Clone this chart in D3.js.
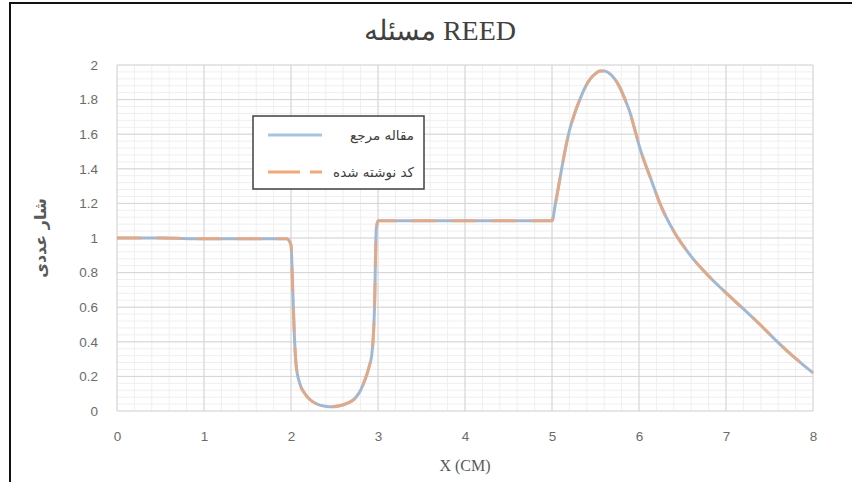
<!DOCTYPE html>
<html>
<head>
<meta charset="utf-8">
<script src="https://cdn.jsdelivr.net/npm/d3@7"></script>
<style>
  body { margin: 0; background: #fff; }
  svg { display: block; }
</style>
</head>
<body>
<div id="chart"></div>
<script>
// values
const xValues = [0, 0.5, 1, 1.5, 1.95, 2.0, 2.02, 2.04, 2.06, 2.1, 2.16, 2.22, 2.3, 2.39, 2.48, 2.56, 2.65, 2.74, 2.8, 2.85, 2.9, 2.93, 2.96, 2.98, 3.0,
  3.5, 4, 4.5, 5.0, 5.04, 5.09, 5.14, 5.2, 5.26, 5.32, 5.38, 5.44, 5.5, 5.55, 5.6, 5.65, 5.72, 5.78, 5.84, 5.9, 5.95, 6.01, 6.07, 6.13, 6.24,
  6.41, 6.59, 6.82, 7.05, 7.2, 7.39, 7.55, 7.74, 7.88, 8.0];
const refFlux = [1.0, 1.0, 0.995, 0.995, 0.995, 0.96, 0.7, 0.42, 0.26, 0.16, 0.1, 0.065, 0.04, 0.028, 0.025, 0.03, 0.045, 0.075, 0.12, 0.18, 0.26, 0.33, 0.6, 1.05, 1.1,
  1.1, 1.1, 1.1, 1.1, 1.2, 1.34, 1.48, 1.62, 1.72, 1.8, 1.87, 1.92, 1.95, 1.965, 1.965, 1.955, 1.92, 1.87, 1.8, 1.72, 1.63, 1.52, 1.43, 1.35, 1.2,
  1.03, 0.9, 0.77, 0.66, 0.59, 0.5, 0.42, 0.33, 0.27, 0.22];
const codeFlux = refFlux.slice();

const xTicks = [0, 1, 2, 3, 4, 5, 6, 7, 8];
const yTicks = [0, 0.2, 0.4, 0.6, 0.8, 1, 1.2, 1.4, 1.6, 1.8, 2];
const titleText = "مسئله REED";
const xTitle = "X (CM)";
const yTitle = "شار عددی";
const seriesNames = ["مقاله مرجع", "کد نوشته شده"];

const width = 852, height = 482;
const margin = {left: 117, right: 39, top: 65, bottom: 71};

const svg = d3.select("#chart").append("svg")
  .attr("width", width)
  .attr("height", height);

// frame lines of the screenshot
svg.append("line").attr("x1", 10).attr("x2", 10).attr("y1", 2).attr("y2", height)
  .attr("stroke", "#111").attr("stroke-width", 2);
svg.append("line").attr("x1", 9).attr("x2", width).attr("y1", 3).attr("y2", 3)
  .attr("stroke", "#111").attr("stroke-width", 2);

const x = d3.scaleLinear().domain([0, 8]).range([margin.left, width - margin.right]);
const y = d3.scaleLinear().domain([0, 2]).range([height - margin.bottom, margin.top]);

// minor grid
const g = svg.append("g");
g.selectAll("line.mx").data(d3.range(0, 8.001, 0.2)).join("line")
  .attr("x1", d => x(d)).attr("x2", d => x(d))
  .attr("y1", y(0)).attr("y2", y(2))
  .attr("stroke", "#efefef").attr("stroke-width", 1);
g.selectAll("line.my").data(d3.range(0, 2.001, 0.04)).join("line")
  .attr("x1", x(0)).attr("x2", x(8))
  .attr("y1", d => y(d)).attr("y2", d => y(d))
  .attr("stroke", "#efefef").attr("stroke-width", 1);

// major grid
g.selectAll("line.gx").data(xTicks).join("line")
  .attr("x1", d => x(d)).attr("x2", d => x(d))
  .attr("y1", y(0)).attr("y2", y(2))
  .attr("stroke", "#d4d4d4").attr("stroke-width", 1);
g.selectAll("line.gy").data(yTicks).join("line")
  .attr("x1", x(0)).attr("x2", x(8))
  .attr("y1", d => y(d)).attr("y2", d => y(d))
  .attr("stroke", "#d4d4d4").attr("stroke-width", 1);

// axes (labels only)
const xAxis = svg.append("g")
  .attr("transform", `translate(0,${y(0) + 17})`)
  .call(d3.axisBottom(x).tickValues(xTicks).tickSize(0).tickFormat(d3.format("d")));
const yAxis = svg.append("g")
  .attr("transform", `translate(${x(0) - 16},0)`)
  .call(d3.axisLeft(y).tickValues(yTicks).tickSize(0).tickFormat(d => String(d)));
[xAxis, yAxis].forEach(a => {
  a.select(".domain").remove();
  a.selectAll("text").attr("fill", "#6b6b6b")
    .style("font-family", "'Liberation Sans', 'DejaVu Sans', sans-serif")
    .style("font-size", "13.5px");
});

// lines
const line = d3.line().x(d => x(d[0])).y(d => y(d[1])).curve(d3.curveMonotoneX);
svg.append("path")
  .datum(xValues.map((v, i) => [v, refFlux[i]]))
  .attr("d", line)
  .attr("fill", "none").attr("stroke", "#a3b8d0").attr("stroke-width", 3);
svg.append("path")
  .datum(xValues.map((v, i) => [v, codeFlux[i]]))
  .attr("d", line)
  .attr("fill", "none").attr("stroke", "#eea67a").attr("stroke-width", 3)
  .attr("stroke-dasharray", "24,16").attr("opacity", 0.8);

// title
svg.append("text")
  .attr("x", 440).attr("y", 40)
  .attr("text-anchor", "middle")
  .attr("fill", "#404040")
  .style("font-family", "'Liberation Serif', 'DejaVu Serif', serif")
  .style("font-size", "28px")
  .text(titleText);

// axis titles
svg.append("text")
  .attr("x", x(4)).attr("y", 471)
  .attr("text-anchor", "middle")
  .attr("fill", "#595959")
  .style("font-family", "'Liberation Serif', serif")
  .style("font-size", "16px")
  .text(xTitle);
svg.append("text")
  .attr("transform", `translate(46,${y(1)}) rotate(-90)`)
  .attr("text-anchor", "middle")
  .attr("fill", "#595959")
  .style("font-family", "'DejaVu Sans', sans-serif")
  .style("font-size", "16px")
  .style("font-weight", "bold")
  .text(yTitle);

// legend
const leg = svg.append("g");
leg.append("rect")
  .attr("x", 253).attr("y", 116).attr("width", 171).attr("height", 73)
  .attr("fill", "#fff").attr("stroke", "#404040").attr("stroke-width", 1.5);
const legColors = ["#a9c4e0", "#f0a878"];
const legDash = [null, "32,10"];
seriesNames.forEach((name, i) => {
  const ly = 135 + i * 37;
  leg.append("line")
    .attr("x1", 268).attr("x2", 322).attr("y1", ly).attr("y2", ly)
    .attr("stroke", legColors[i]).attr("stroke-width", 3)
    .attr("stroke-dasharray", legDash[i]);
  leg.append("text")
    .attr("x", 414).attr("y", ly + 5)
    .attr("text-anchor", "end")
    .attr("fill", "#404040")
    .style("font-family", "'DejaVu Sans', sans-serif")
    .style("font-size", "13.5px")
    .text(name);
});
</script>
</body>
</html>
